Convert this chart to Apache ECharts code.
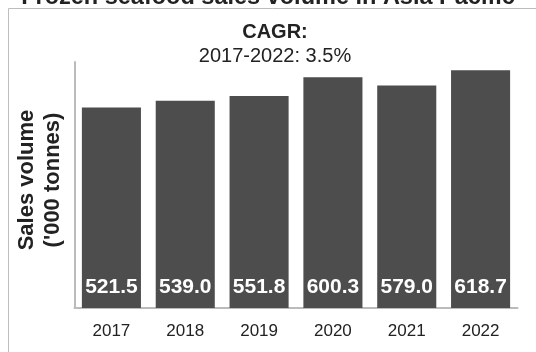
<!DOCTYPE html>
<html>
<head>
<meta charset="utf-8">
<script src="https://cdn.jsdelivr.net/npm/echarts@6/dist/echarts.min.js"></script>
<style>html,body{margin:0;padding:0;background:#fff}#c{width:536px;height:352px}</style>
</head>
<body>
<div id="c"></div>
<script>
var categories = ['2017', '2018', '2019', '2020', '2021', '2022'];
var salesVolume = [521.5, 539.0, 551.8, 600.3, 579.0, 618.7];
var titleText = 'Frozen seafood sales volume in Asia Pacific';
var cagrTitle = 'CAGR:';
var cagrText = '2017-2022: 3.5%';
var yAxisName = "Sales volume\n('000 tonnes)";

var chart = echarts.init(document.getElementById('c'), null, {renderer: 'canvas'});
var font = 'Liberation Sans, Arial, sans-serif';
chart.setOption({
  animation: false,
  textStyle: {fontFamily: font},
  graphic: [
    {type: 'rect', shape: {x: 8.5, y: 8.5, width: 560, height: 400}, style: {fill: 'none', stroke: '#bdbdbd', lineWidth: 1}, z: -1},
    {type: 'text', x: 268, y: -2, style: {text: titleText, font: 'bold 23.5px ' + font, fill: '#222', align: 'center', verticalAlign: 'middle'}},
    {type: 'text', x: 275, y: 32, style: {text: cagrTitle, font: 'bold 20px ' + font, fill: '#222', align: 'center', verticalAlign: 'middle'}},
    {type: 'text', x: 275, y: 56, style: {text: cagrText, font: '20px ' + font, fill: '#222', align: 'center', verticalAlign: 'middle'}},
    {type: 'text', x: 40, y: 180, rotation: Math.PI / 2, style: {text: yAxisName, font: 'bold 22px ' + font, lineHeight: 26, fill: '#222', align: 'center', verticalAlign: 'middle'}}
  ],
  grid: {left: 74.5, right: 18.5, top: 62, bottom: 44, outerBoundsMode: 'none', containLabel: false},
  xAxis: {
    type: 'category',
    data: categories,
    axisLine: {lineStyle: {color: '#bbbbbb', width: 2}},
    axisTick: {show: false},
    axisLabel: {color: '#222', fontSize: 17, margin: 15, fontFamily: font}
  },
  yAxis: {
    type: 'value',
    min: 0,
    max: 640,
    axisLine: {show: true, lineStyle: {color: '#bbbbbb', width: 2}},
    axisTick: {show: false},
    axisLabel: {show: false},
    splitLine: {show: false}
  },
  series: [{
    type: 'bar',
    data: salesVolume,
    barWidth: '80%',
    itemStyle: {color: '#4d4d4d'},
    label: {
      show: true,
      position: 'insideBottom',
      distance: 10,
      color: '#fff',
      fontWeight: 'bold',
      fontSize: 21,
      fontFamily: font,
      formatter: function (p) { return p.value.toFixed(1); }
    }
  }]
});
</script>
</body>
</html>
